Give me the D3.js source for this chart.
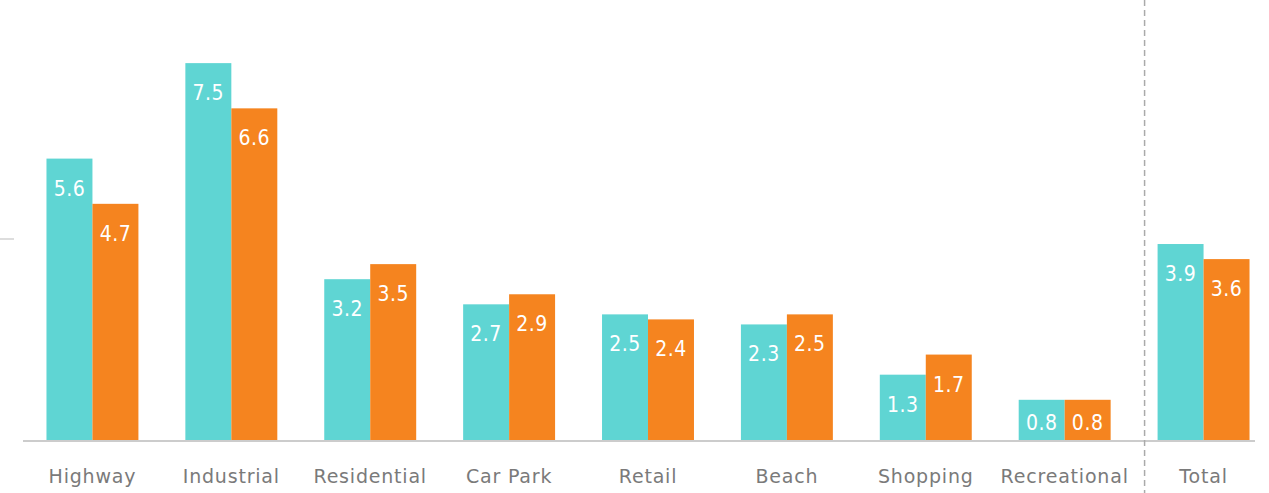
<!DOCTYPE html>
<html>
<head>
<meta charset="utf-8">
<script src="https://cdn.jsdelivr.net/npm/d3@7"></script>
<style>
  body { margin: 0; background: #fff; }
  svg { display: block; }
  .val { fill: #fff; font-family: "DejaVu Sans Condensed", "DejaVu Sans", sans-serif; font-size: 21px; text-anchor: middle; letter-spacing: 0.5px; }
  .cat { fill: #7a7a7a; font-family: "DejaVu Sans", sans-serif; font-size: 19px; text-anchor: middle; letter-spacing: 0.8px; }
</style>
</head>
<body>
<svg id="canvas" width="1269" height="493"></svg>
<script>
const categories = ["Highway", "Industrial", "Residential", "Car Park", "Retail", "Beach", "Shopping", "Recreational", "Total"];
const seriesA = [5.6, 7.5, 3.2, 2.7, 2.5, 2.3, 1.3, 0.8, 3.9];
const seriesB = [4.7, 6.6, 3.5, 2.9, 2.4, 2.5, 1.7, 0.8, 3.6];
const series = ["a", "b"];
const colors = ["#5fd5d3", "#f5841f"];
const yTicks = [4];

const svg = d3.select("#canvas");
const baseY = 440;

const x = d3.scaleBand().domain(categories).range([23, 1273])
    .paddingInner(0.338).paddingOuter(0.169);
const xs = d3.scaleBand().domain(series).range([0, x.bandwidth()]);
const y = d3.scaleLinear().domain([0, 8]).range([baseY, 38]);

// left tick mark
svg.selectAll(".ytick").data(yTicks).enter().append("line")
    .attr("x1", 0).attr("x2", 14)
    .attr("y1", d => y(d)).attr("y2", d => y(d))
    .attr("stroke", "#ddd").attr("stroke-width", 2);

const rows = categories.map((c, i) => ({ cat: c, vals: [seriesA[i], seriesB[i]] }));

const groups = svg.selectAll(".grp").data(rows).enter().append("g")
    .attr("class", "grp")
    .attr("transform", d => `translate(${x(d.cat)},0)`);

const bars = groups.selectAll(".bar")
    .data(d => d.vals.map((v, j) => ({ v, s: series[j], j })))
    .enter();

bars.append("rect")
    .attr("x", d => xs(d.s))
    .attr("y", d => y(d.v))
    .attr("width", xs.bandwidth())
    .attr("height", d => baseY - y(d.v))
    .attr("fill", d => colors[d.j]);

bars.append("text").attr("class", "val")
    .attr("x", d => xs(d.s) + xs.bandwidth() / 2)
    .attr("y", d => Math.min(y(d.v) + 37, baseY - 10))
    .text(d => d.v.toFixed(1));

// baseline
svg.append("line")
    .attr("x1", 23).attr("x2", 1255)
    .attr("y1", baseY + 1).attr("y2", baseY + 1)
    .attr("stroke", "#ccc").attr("stroke-width", 2);

// category labels
svg.selectAll(".cat").data(categories).enter().append("text")
    .attr("class", "cat")
    .attr("x", d => x(d) + x.bandwidth() / 2)
    .attr("y", 483)
    .text(d => d);

// separator before Total
const sepX = x("Total") - 13;
svg.append("line")
    .attr("x1", sepX).attr("x2", sepX)
    .attr("y1", 0).attr("y2", 493)
    .attr("stroke", "#aaa").attr("stroke-width", 1.5)
    .attr("stroke-dasharray", "6,4");
</script>
</body>
</html>
